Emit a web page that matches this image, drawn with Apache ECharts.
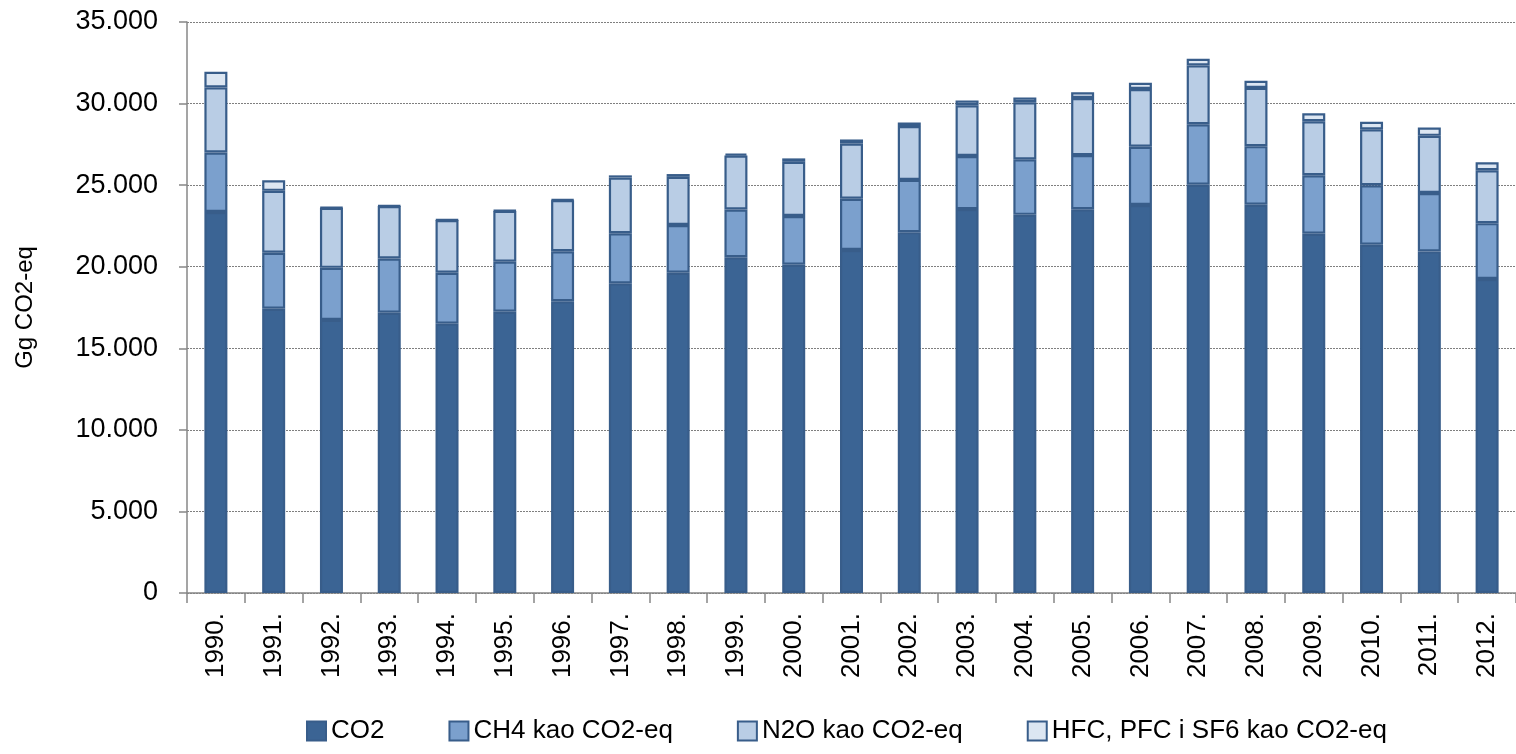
<!DOCTYPE html>
<html>
<head>
<meta charset="utf-8">
<title>Emisije stakleničkih plinova</title>
<script src="https://cdn.jsdelivr.net/npm/echarts@6/dist/echarts.min.js"></script>
<style>
  html, body { margin: 0; padding: 0; background: #fff; }
  #chart { width: 1516px; height: 754px; }
</style>
</head>
<body>
<div id="chart"></div>
<script>
// godine (kategorije)
const years = ["1990.", "1991.", "1992.", "1993.", "1994.", "1995.", "1996.", "1997.", "1998.", "1999.", "2000.",
  "2001.", "2002.", "2003.", "2004.", "2005.", "2006.", "2007.", "2008.", "2009.", "2010.", "2011.", "2012."];

// Gg CO2-eq po plinu
const co2 = [23350, 17420, 16740, 17180, 16510, 17240, 17880, 18980, 19630, 20580, 20120,
  21020, 22120, 23530, 23180, 23520, 23780, 25020, 23800, 22020, 21350, 20940, 19250];
const ch4 = [3650, 3440, 3190, 3320, 3120, 3070, 3070, 3070, 2930, 2930, 2990,
  3150, 3200, 3260, 3400, 3320, 3570, 3710, 3590, 3590, 3640, 3580, 3420];
const n2o = [3990, 3790, 3680, 3220, 3230, 3110, 3130, 3410, 2950, 3300, 3320,
  3380, 3300, 3110, 3500, 3500, 3540, 3610, 3570, 3310, 3430, 3500, 3240];
const hfc = [960, 650, 30, 30, 30, 30, 40, 140, 170, 120, 210,
  250, 220, 290, 290, 350, 390, 400, 440, 490, 470, 510, 490];

const seriesNames = ["CO2", "CH4 kao CO2-eq", "N2O kao CO2-eq", "HFC, PFC i SF6 kao CO2-eq"];
const yTicks = [0, 5000, 10000, 15000, 20000, 25000, 30000, 35000];

const FONT = "'Liberation Sans', Arial, sans-serif";
const AXIS_GREY = "#878787";
const BORDER = "#385d8a";
const fills = ["#3b6494", "#7ba0cd", "#b9cde5", "#dce6f2"];

/**
 * 35000 -> "35.000"
 */
const fmt = (v) => String(v).replace(/\B(?=(\d{3})+(?!\d))/g, ".");

/**
 * jedan stupac u stogu
 */
const makeSeries = (name, data, idx) => ({
  name: name,
  type: "bar",
  stack: "total",
  data: data,
  barWidth: 23,
  itemStyle: {
    color: fills[idx],
    borderColor: BORDER,
    borderWidth: 2.2,
  },
  emphasis: { disabled: true },
});

const chart = echarts.init(document.getElementById("chart"), null, { renderer: "canvas" });

const option = {
  animation: false,
  backgroundColor: "#ffffff",
  textStyle: { fontFamily: FONT, color: "#000" },
  grid: {
    left: 187,
    right: -5,
    top: 22,
    bottom: 161,
    containLabel: false,
  },
  legend: {
    left: 301,
    bottom: 5,
    icon: "rect",
    itemWidth: 19,
    itemHeight: 19,
    itemGap: 64,
    textStyle: { fontFamily: FONT, fontSize: 26, color: "#000" },
    data: seriesNames,
  },
  xAxis: {
    type: "category",
    data: years,
    boundaryGap: true,
    axisLine: { lineStyle: { color: AXIS_GREY, width: 1.5 } },
    axisTick: { show: true, length: 10, inside: false, lineStyle: { color: AXIS_GREY, width: 1.5 } },
    axisLabel: {
      rotate: 90,
      margin: 20,
      fontFamily: FONT,
      fontSize: 26,
      color: "#000",
    },
  },
  yAxis: {
    type: "value",
    min: yTicks[0],
    max: yTicks[yTicks.length - 1],
    interval: 5000,
    name: "Gg CO2-eq",
    nameLocation: "middle",
    nameGap: 150,
    nameRotate: 90,
    nameTextStyle: { fontFamily: FONT, fontSize: 24, color: "#000" },
    axisLine: { show: true, lineStyle: { color: AXIS_GREY, width: 1.5 } },
    axisTick: { show: true, length: 8, lineStyle: { color: AXIS_GREY, width: 1.5 } },
    axisLabel: {
      margin: 29,
      fontFamily: FONT,
      fontSize: 27,
      color: "#000",
      formatter: fmt,
    },
    splitLine: {
      show: true,
      lineStyle: { color: "#7f7f7f", type: [2, 1], width: 1 },
    },
  },
  series: [
    makeSeries(seriesNames[0], co2, 0),
    makeSeries(seriesNames[1], ch4, 1),
    makeSeries(seriesNames[2], n2o, 2),
    makeSeries(seriesNames[3], hfc, 3),
  ],
};

chart.setOption(option);
</script>
</body>
</html>
